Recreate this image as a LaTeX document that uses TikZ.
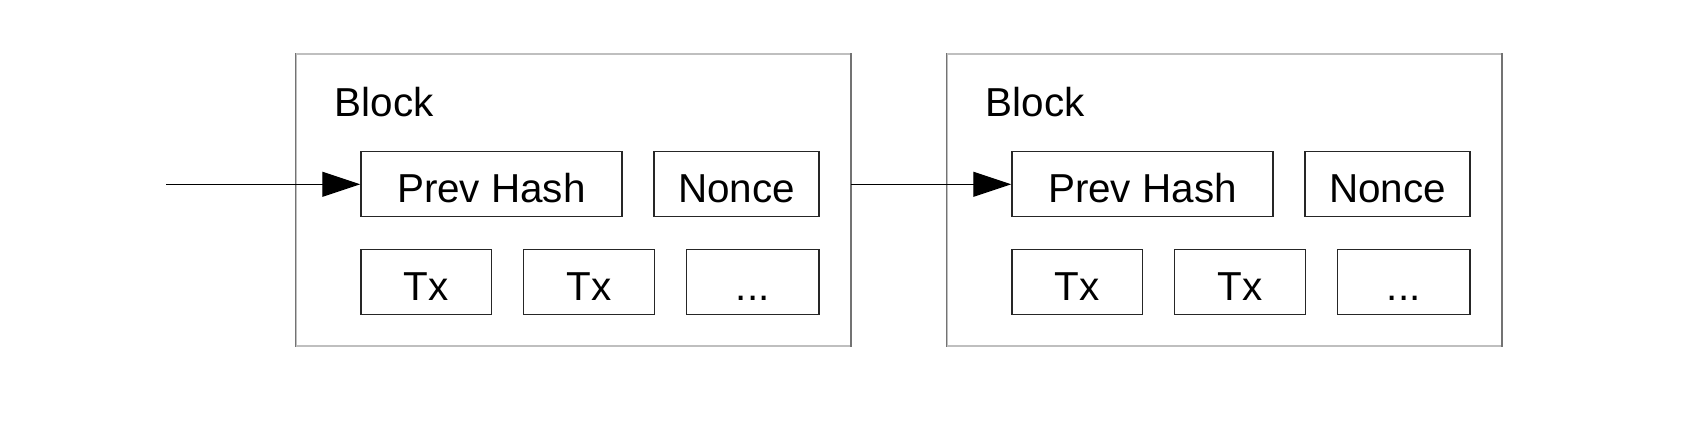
\documentclass[tikz,border=0pt]{standalone}
\usepackage{fontspec}
\setmainfont{Liberation Sans}
\usetikzlibrary{arrows.meta}

\tikzset{
	blockbox/.style={draw=black!25, line width=0.85pt, minimum width=11.08cm, minimum height=5.84cm, inner sep=0pt},
	field/.style={draw=black!85, line width=0.75pt, minimum height=1.3cm, inner sep=0pt, text height=0.74cm, text depth=0cm, font=\fontsize{23}{27}\selectfont},
	link/.style={line width=0.75pt, -{Triangle[length=0.76cm, width=0.5cm]}}
}

\begin{document}
\begin{tikzpicture}[x=0.02cm, y=0.02cm]
		\useasboundingbox (0, 0) rectangle (1690, 420);

		% blocchi
		\foreach \i/\dx in {1/0, 2/651} {
			\node[blockbox] (b\i) at (573.4+\dx, 220) {};
			\draw[black!55, line width=0.85pt] (b\i.north west) -- (b\i.south west);
			\draw[black!55, line width=0.85pt] (b\i.north east) -- (b\i.south east);
			\node[anchor=base west, font=\fontsize{23}{27}\selectfont] (lab\i) at (328.7+\dx, 303.6) {Block};

			% campi
			\node[field, minimum width=5.22cm] (ph\i) at (491.4+\dx, 235.7) {Prev Hash};
			\node[field, minimum width=3.3cm] (nc\i) at (736.6+\dx, 235.7) {Nonce};
			\node[field, minimum width=2.61cm] (txa\i) at (426.2+\dx, 138.2) {Tx};
			\node[field, minimum width=2.61cm] (txb\i) at (589.0+\dx, 138.2) {Tx};
			\node[field, minimum width=2.65cm] (more\i) at (752.8+\dx, 138.2) {...};
		}

		% frecce
		\coordinate (in) at (166, 235.7);
		\coordinate (out1) at (b1.east |- ph2.west);
		\draw[link] (in) -- (ph1.west);
		\draw[link] (out1) -- (ph2.west);
	\end{tikzpicture}
\end{document}
